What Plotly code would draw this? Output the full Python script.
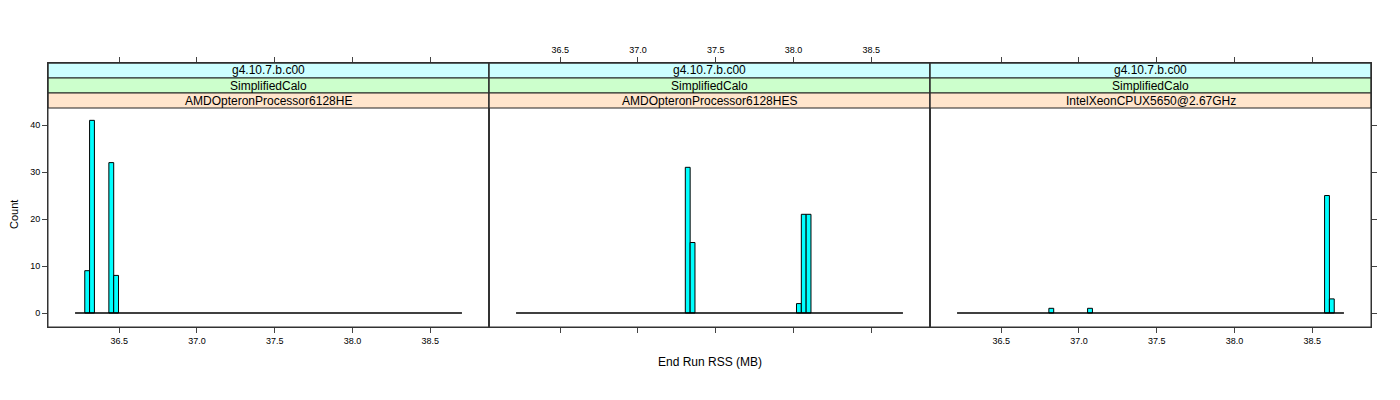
import plotly.graph_objects as go

# ---- data ----
bin_lo = 36.216          # left edge of first histogram bin (MB)
bin_width = 0.0311       # histogram bin width (MB)
n_bins = 80

strip_top = "g4.10.7.b.c00"
strip_mid = "SimplifiedCalo"
panel_names = ["AMDOpteronProcessor6128HE", "AMDOpteronProcessor6128HES", "IntelXeonCPUX5650@2.67GHz"]

p1_rss = [36.294, 36.325, 36.449, 36.480]
p1_count = [9, 41, 32, 8]
p2_rss = [37.320, 37.351, 38.035, 38.066, 38.097]
p2_count = [31, 15, 2, 21, 21]
p3_rss = [36.822, 37.071, 38.595, 38.626]
p3_count = [1, 1, 25, 3]

x_ticks = [36.5, 37.0, 37.5, 38.0, 38.5]
x_tick_labels = ["36.5", "37.0", "37.5", "38.0", "38.5"]
y_ticks = [0, 10, 20, 30, 40]

# ---- layout constants (page body has an 8px margin) ----
OFF = 8
W, H = 1392, 392
ML, MT = 48 - OFF, 63 - OFF
PW, PH = 1323, 264
MR = W - ML - PW
MB = H - MT - PH
x_range = [36.042, 38.878]
y_range = [-2.98, 53.2]
FONT = "Liberation Sans, Arial, Helvetica, sans-serif"
strip_colors = ["#CCFFFF", "#CCFFCC", "#FFE5CC"]
strip_px = 15

fig = go.Figure()
panels = [(p1_rss, p1_count), (p2_rss, p2_count), (p3_rss, p3_count)]
edge_hi = bin_lo + n_bins * bin_width
for i, (xs, cs) in enumerate(panels):
    ax = "" if i == 0 else str(i + 1)
    fig.add_trace(go.Scatter(x=[bin_lo, edge_hi], y=[0, 0], mode="lines",
                             line=dict(color="black", width=1.6),
                             xaxis="x" + ax, yaxis="y" + ax, showlegend=False, hoverinfo="skip"))
    fig.add_trace(go.Bar(x=xs, y=cs, width=bin_width,
                         marker=dict(color="#00FFFF", line=dict(color="black", width=1)),
                         xaxis="x" + ax, yaxis="y" + ax, showlegend=False))

tickfont = dict(family=FONT, size=9, color="black")
common_x = dict(range=x_range, tickvals=x_ticks, ticktext=x_tick_labels, ticks="outside",
                ticklen=5, tickcolor="#444", showgrid=False, zeroline=False,
                showline=True, linecolor="#333", linewidth=1, mirror="ticks", tickfont=tickfont)
common_y = dict(range=y_range, tickvals=y_ticks, showgrid=False, zeroline=False,
                showline=True, linecolor="#333", linewidth=1, mirror=True, domain=[0, 1],
                tickfont=tickfont, tickcolor="#444", ticklen=5)

third = 1 / 3
layout = dict(
    width=W, height=H, margin=dict(l=ML, r=MR, t=MT, b=MB),
    plot_bgcolor="white", paper_bgcolor="white", barmode="overlay",
    font=dict(family=FONT, color="black"),
    xaxis=dict(common_x, domain=[0, third], anchor="y", side="bottom"),
    xaxis2=dict(common_x, domain=[third, 2 * third], anchor="y2", side="top"),
    xaxis3=dict(common_x, domain=[2 * third, 1], anchor="y3", side="bottom"),
    yaxis=dict(common_y, anchor="x", ticks="outside", side="left"),
    yaxis2=dict(common_y, anchor="x2", ticks="", showticklabels=False),
    yaxis3=dict(common_y, anchor="x3", ticks="outside", side="right", showticklabels=False),
)
fig.update_layout(**layout)

shapes = []
annotations = []
for i, name in enumerate(panel_names):
    x0, x1 = i * third, (i + 1) * third
    texts = [strip_top, strip_mid, name]
    for k in range(3):
        ytop = 1 - k * strip_px / PH
        ybot = 1 - (k + 1) * strip_px / PH
        shapes.append(dict(type="rect", xref="paper", yref="paper", x0=x0, x1=x1, y0=ybot, y1=ytop,
                           fillcolor=strip_colors[k], line=dict(color="#222", width=1), layer="above"))
        annotations.append(dict(text=texts[k], xref="paper", yref="paper", x=(x0 + x1) / 2,
                                y=(ytop + ybot) / 2, showarrow=False, xanchor="center", yanchor="middle",
                                font=dict(family=FONT, size=12, color="black")))
    shapes.append(dict(type="rect", xref="paper", yref="paper", x0=x0, x1=x1, y0=0, y1=1,
                       fillcolor="rgba(0,0,0,0)", line=dict(color="#333", width=1), layer="above"))

# page pixel positions of the axis titles in the reference
xlab_y_px, ylab_x_px, ylab_y_px = 362, 14, 215
annotations.append(dict(text="End Run RSS (MB)", xref="paper", yref="paper", x=0.5,
                        y=(63 + PH - xlab_y_px) / PH, showarrow=False,
                        xanchor="center", yanchor="middle", font=dict(family=FONT, size=12)))
annotations.append(dict(text="Count", xref="paper", yref="paper", x=(ylab_x_px - 48) / PW,
                        y=(63 + PH - ylab_y_px) / PH, showarrow=False, textangle=-90,
                        xanchor="center", yanchor="middle", font=dict(family=FONT, size=11)))
fig.update_layout(shapes=shapes, annotations=annotations)

fig.write_html("out.html")
